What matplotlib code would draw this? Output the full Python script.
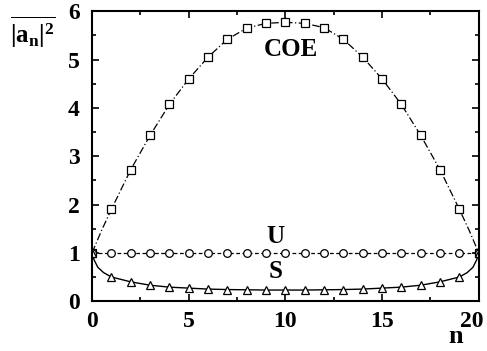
import matplotlib
matplotlib.use('Agg')
import matplotlib.pyplot as plt
from matplotlib.ticker import MultipleLocator, FuncFormatter

plt.rcParams['font.family'] = 'Liberation Serif'
plt.rcParams['font.weight'] = 'bold'
plt.rcParams['mathtext.fontset'] = 'custom'
plt.rcParams['mathtext.rm'] = 'Liberation Serif:bold'
plt.rcParams['mathtext.it'] = 'Liberation Serif:bold'
plt.rcParams['mathtext.bf'] = 'Liberation Serif:bold'

#--- data
n = list(range(21))
coe = [1.0, 1.9, 2.72, 3.43, 4.07, 4.6, 5.05, 5.42, 5.65, 5.75, 5.77,
       5.75, 5.66, 5.42, 5.05, 4.6, 4.07, 3.43, 2.72, 1.9, 1.0]
u = [1.0] * 21
s = [1.0, 0.5, 0.4, 0.33, 0.29, 0.27, 0.25, 0.24, 0.235, 0.23, 0.23,
     0.23, 0.235, 0.24, 0.25, 0.27, 0.29, 0.33, 0.4, 0.5, 1.0]

# extra points on the smooth curves near the ends
coe_n = [0, 0.5] + n[1:20] + [19.5, 20]
coe_line = [1.0, 1.47] + coe[1:20] + [1.47, 1.0]
s_n = [0, 0.1, 0.3, 0.6] + n[1:20] + [19.4, 19.7, 19.9, 20]
s_line = [1.0, 0.86, 0.7, 0.59] + s[1:20] + [0.59, 0.7, 0.86, 1.0]

fig = plt.figure(figsize=(4.87, 3.51), dpi=100)
ax = fig.add_axes([0.189, 0.142, 0.794, 0.826])

ax.plot(coe_n, coe_line, color='black', lw=0.9, ls=(0, (6, 2, 1, 2)))
ax.plot(n, coe, ls='none', marker='s', ms=5.5, mfc='white', mec='black', mew=0.9)
ax.plot(n, u, color='black', lw=0.9, ls=(0, (3, 2)), marker='o', ms=5.5,
        mfc='white', mec='black', mew=0.9)
ax.plot(s_n, s_line, color='black', lw=1.0)
ax.plot(n, s, ls='none', marker='^', ms=5.5, mfc='white', mec='black', mew=0.9)

ax.set_xlim(0, 20)
ax.set_ylim(0, 6)
ax.xaxis.set_major_locator(MultipleLocator(5))
ax.xaxis.set_minor_locator(MultipleLocator(2.5))
ax.yaxis.set_major_locator(MultipleLocator(1))
ax.yaxis.set_minor_locator(MultipleLocator(0.5))
# the "20" label is drawn separately so it stays inside the figure
ax.xaxis.set_major_formatter(FuncFormatter(lambda v, p: '' if v >= 20 else f'{v:g}'))
ax.tick_params(which='both', direction='in', top=True, right=True,
               labelsize=17, width=1.2)
ax.tick_params(axis='x', pad=7)
ax.tick_params(axis='y', pad=9)
ax.tick_params(which='major', length=5)
ax.tick_params(which='minor', length=3)
for sp in ax.spines.values():
    sp.set_linewidth(1.5)
for lab in ax.get_xticklabels() + ax.get_yticklabels():
    lab.set_fontweight('bold')

ax.annotate('20', xy=(20, 0), xycoords='data', xytext=(-5, -7),
            textcoords='offset points', ha='center', va='top',
            fontsize=17, fontweight='bold')

ax.text(10.3, 5.2, 'COE', fontsize=18, fontweight='bold', ha='center', va='center')
ax.text(9.5, 1.33, 'U', fontsize=18, fontweight='bold', ha='center', va='center')
ax.text(9.5, 0.62, 'S', fontsize=18, fontweight='bold', ha='center', va='center')

fig.text(0.068, 0.905, r'$\overline{|a_n|^2}$', fontsize=18, ha='center', va='center')
fig.text(0.935, 0.04, 'n', fontsize=19, fontweight='bold', ha='center', va='center')

fig.savefig('out.png', dpi=100)
